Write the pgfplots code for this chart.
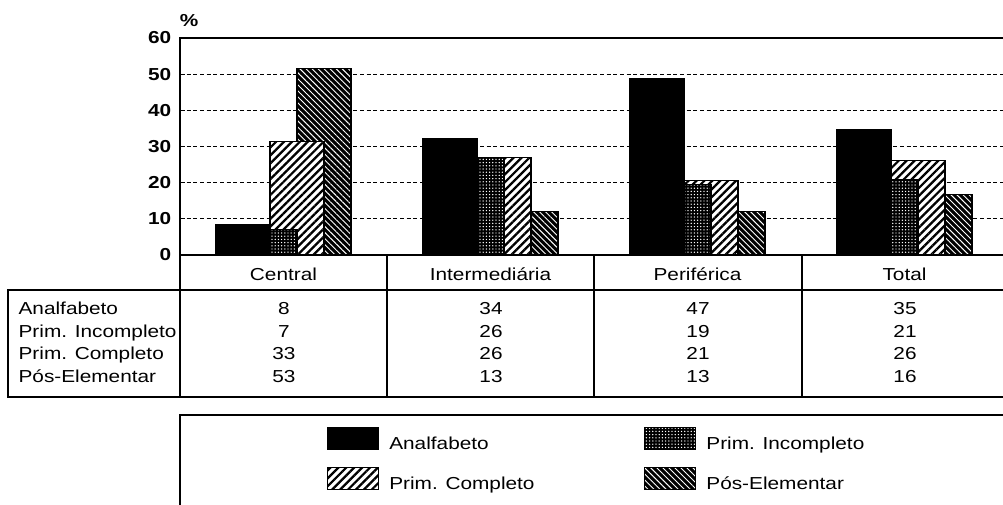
\documentclass[border=0pt]{standalone}
\usepackage{fontspec}
\setmainfont{Liberation Sans}[FakeStretch=1.2]
\usepackage{pgfplots}
\pgfplotsset{compat=1.18}
\usetikzlibrary{patterns.meta}

% bar fills
\tikzset{
  barAna/.style={fill=black, draw=black, line width=0.8pt},
  barInc/.style={fill=black, draw=black, line width=0.8pt,
    postaction={pattern={Dots[distance=2.4pt,radius=0.55pt]}, pattern color=white}},
  barCom/.style={fill=white, draw=black, line width=0.8pt,
    postaction={pattern={Lines[angle=45,distance=4.2pt,line width=1.7pt]}, pattern color=black}},
  barPos/.style={fill=black, draw=black, line width=0.8pt,
    postaction={pattern={Lines[angle=-45,distance=3.2pt,line width=0.7pt]}, pattern color=white}},
}
\pgfplotsset{swatch/.style={legend image code/.code={\draw[##1] (0pt,-4.4pt) rectangle (38.25pt,12.1pt);}}}

\begin{document}
\begin{tikzpicture}[font=\fontsize{13}{15.6}\selectfont]
\path[use as bounding box, x=0.75pt, y=-0.75pt] (0,0) rectangle (1003,505);

\begin{axis}[
  at={(135pt,-191.25pt)}, anchor=south west,
  scale only axis, width=621pt, height=162.75pt,
  xmin=-0.5, xmax=3.5, ymin=0, ymax=60,
  xtick={0,1,2,3},
  xticklabels={Central,Intermediária,Periférica,Total},
  x tick style={draw=none},
  xticklabel style={anchor=base, yshift=-19pt},
  ytick={0,10,...,60},
  tick align=inside, major tick length=4pt,
  ytick style={black, line width=0.8pt},
  yticklabel style={font=\bfseries\fontsize{13}{15}\selectfont, xshift=-3pt},
  /pgf/number format/assume math mode=true,
  ymajorgrids,
  major grid style={densely dashed, line width=0.7pt, black},
  axis line style={line width=0.9pt},
  clip=false,
  legend columns=2,
  legend cell align=left,
  legend style={draw=none, fill=none, inner sep=0pt,
    at={(axis description cs:0.1775,-0.7926)}, anchor=north west,
    nodes={inner sep=0pt}, row sep=12pt,
    /tikz/every odd column/.append style={column sep=7.5pt}},
]
\addlegendimage{barAna, swatch}
\addlegendentry{\makebox[191.25pt][l]{Analfabeto}}
\addlegendimage{barInc, swatch}
\addlegendentry{Prim. Incompleto}
\addlegendimage{barCom, swatch}
\addlegendentry{\makebox[191.25pt][l]{Prim. Completo}}
\addlegendimage{barPos, swatch}
\addlegendentry{Pós-Elementar}

% bar heights as drawn
\addplot[ybar, barAna, bar width=0.2609, bar shift=-0.1957, forget plot]
  coordinates {(0,8.5) (1,32.3) (2,48.7) (3,34.8)};
\addplot[ybar, barPos, bar width=0.2609, bar shift=0.1957, forget plot]
  coordinates {(0,51.6) (1,12) (2,12) (3,16.7)};
\addplot[ybar, barCom, bar width=0.2609, bar shift=0.0652, forget plot]
  coordinates {(0,31.3) (1,26.9) (2,20.5) (3,26.1)};
\addplot[ybar, barInc, bar width=0.1304, bar shift=0, forget plot]
  coordinates {(0,7.1) (1,26.9) (2,19.4) (3,21)};
\end{axis}

\begin{scope}[x=0.75pt, y=-0.75pt, line width=0.9pt]
  \node[font=\bfseries\fontsize{13}{15}\selectfont] at (189,21) {\%};
  % data table
  \draw (8,290) rectangle (1020,397);
  \draw (180,255) -- (180,397);
  \foreach \x in {387,594,802} \draw (\x,255) -- (\x,397);
  \foreach \t [count=\i] in {Analfabeto,Prim. Incompleto,Prim. Completo,Pós-Elementar}
    \node[anchor=base west, inner sep=0pt] at (18,{315+22.5*(\i-1)}) {\t};
  \foreach \cx/\a/\b/\c/\d in {284/8/7/33/53, 491/34/26/26/13, 698/47/19/21/13, 905/35/21/26/16} {
    \node[anchor=base, inner sep=0pt] at (\cx,315) {\a};
    \node[anchor=base, inner sep=0pt] at (\cx,337.5) {\b};
    \node[anchor=base, inner sep=0pt] at (\cx,360) {\c};
    \node[anchor=base, inner sep=0pt] at (\cx,382.5) {\d};
  }
  % legend frame
  \draw (180,415) rectangle (1020,530);
\end{scope}
\end{tikzpicture}
\end{document}
